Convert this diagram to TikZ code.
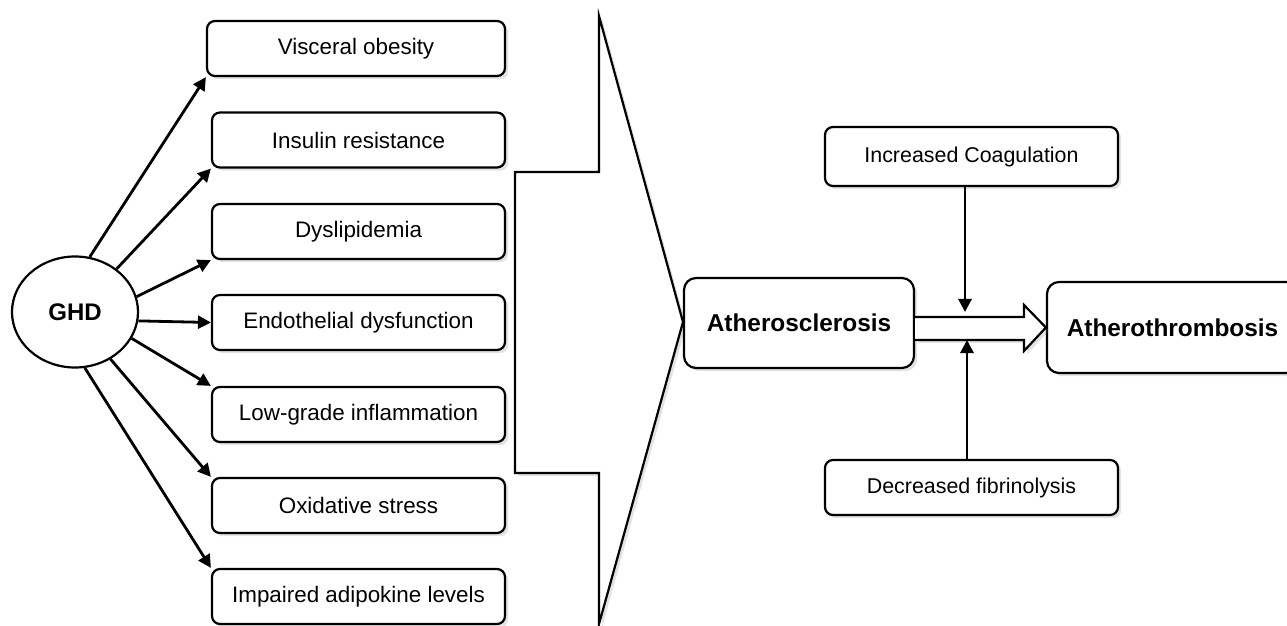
\documentclass[tikz,border=0pt]{standalone}
\usepackage{fontspec}
\setmainfont{Liberation Sans}
\usepackage{tikz}
\usetikzlibrary{positioning,arrows.meta,calc,shapes.geometric,shadows}

\tikzset{
  shade/.style={drop shadow={opacity=0.22,shadow xshift=1.6pt,shadow yshift=-1.6pt}},
  factor/.style={draw,line width=1.1pt,rounded corners=4pt,fill=white,shade,
    minimum width=146.5pt,minimum height=27.5pt,inner sep=0pt,
    font=\fontsize{11.2}{13}\selectfont},
  hub/.style={draw,ellipse,line width=1.1pt,fill=white,inner sep=0pt,
    minimum width=63pt,minimum height=55.5pt,font=\fontsize{12}{14}\selectfont\bfseries},
  stage/.style={draw,line width=1.1pt,rounded corners=6pt,fill=white,shade,
    minimum width=115pt,minimum height=45pt,inner sep=0pt,
    font=\fontsize{12.2}{14}\selectfont\bfseries},
  cond/.style={draw,line width=1.1pt,rounded corners=4pt,fill=white,shade,
    minimum width=146.5pt,minimum height=28.5pt,inner sep=0pt,
    font=\fontsize{10.7}{12}\selectfont},
  arr/.style={line width=1.4pt,-{Triangle[length=6.5pt,width=6.5pt]}}
}

\begin{document}
\begin{tikzpicture}[x=0.5pt,y=-0.5pt]
  \useasboundingbox (0,0) rectangle (1287,626);
  % big block arrow
  \draw[line width=1.1pt,fill=white,shade] (515,172)--(599,172)--(599,16)--(683,322)--(599,624)--(599,473)--(515,473)--cycle;
  % left column
  \node[hub] (ghd) at (75,312){GHD};
  \node[factor,minimum width=149pt] (vis) at (356,48.5){Visceral obesity};
  \node[factor] (ins) at (358.5,140){Insulin resistance};
  \node[factor] (dys) at (358.5,231.5){Dyslipidemia};
  \node[factor] (endo) at (358.5,322.5){Endothelial dysfunction};
  \node[factor] (low) at (358.5,414.5){Low-grade inflammation};
  \node[factor] (oxi) at (358.5,505.5){Oxidative stress};
  \node[factor] (adi) at (358.5,596.5){Impaired adipokine levels};
  \draw[arr](ghd.75)--(vis.south west);
  \draw[arr](ghd.46)--(ins.south west);
  \draw[arr](ghd.14)--(dys.south west);
  \draw[arr](ghd.-8)--(endo.west);
  \draw[arr](ghd.-25)--(low.north west);
  \draw[arr](ghd.-53)--(oxi.north west);
  \draw[arr](ghd.-80)--(adi.north west);
  % right part
  \node[stage] (scl) at (799,323){Atherosclerosis};
  \node[stage,minimum width=125.5pt,minimum height=45.5pt] (thr) at (1172.5,327.5){Atherothrombosis};
  \node[cond,minimum height=29.5pt] (coag) at (971.5,156.5){Increased Coagulation};
  \node[cond,minimum height=27.5pt] (fib) at (971.5,487.5){Decreased fibrinolysis};
  \draw[line width=1.1pt,fill=white,shade] (scl.east |- 0,317)--(1024,317)--(1024,305)--(thr.west)--(1024,351)--(1024,340)--(scl.east |- 0,340);
  \coordinate (meetT) at (965,312);
  \coordinate (meetB) at (967,340);
  \draw[arr](coag.south -| meetT)--(meetT);
  \draw[arr](fib.north -| meetB)--(meetB);
\end{tikzpicture}
\end{document}
